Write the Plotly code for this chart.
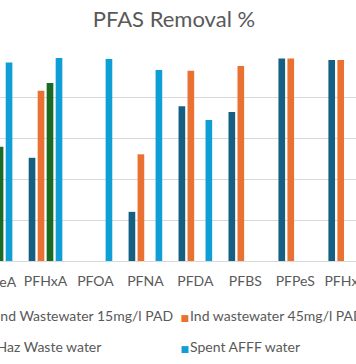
import plotly.graph_objects as go

categories = ["PFPeA", "PFHxA", "PFOA", "PFNA", "PFDA", "PFBS", "PFPeS", "PFHxS"]
ind_15 = [None, 50.6, None, 24.1, 75.9, 73.0, 99.3, 98.5]
ind_45 = [None, 83.4, None, 52.3, 93.2, 95.6, 99.3, 98.5]
haz = [56.0, 87.3, None, None, None, None, None, None]
afff = [97.3, 99.5, 99.0, 93.6, 69.1, None, None, None]

series_names = ["Ind Wastewater 15mg/l PAD", "Ind wastewater 45mg/l PAD",
                "Haz Waste water", "Spent AFFF water"]
series_values = [ind_15, ind_45, haz, afff]
series_colors = ["#156082", "#E97132", "#196B24", "#0F9ED5"]
legend_ids = ["legend5", "legend2", "legend3", "legend4"]

FONT = "Lato"
GRAY = "#595959"
W, H = 356, 364
top, bot = 56.7, 261.3
ph = bot - top
XR = [0.089, 7.216]

fig = go.Figure()
for name, vals, color in zip(series_names, series_values, series_colors):
    fig.add_trace(go.Bar(x=list(range(len(categories))), y=vals, name=name, showlegend=False,
                         marker=dict(color=color, line=dict(width=0))))

# legend entries: small coloured square drawn as text right before the label
for name, color, lg in zip(series_names, series_colors, legend_ids):
    label = (f"<span style='color:{color};font-family:DejaVu Sans;font-size:9px'>■</span>"
             f"<span style='font-size:4px'> </span>{name}")
    fig.add_trace(go.Scatter(x=[None], y=[None], mode="markers", name=label, legend=lg,
                             marker=dict(color="rgba(0,0,0,0)", size=1), hoverinfo="skip"))


def py(px):
    return (bot - px) / ph


leg_common = dict(orientation="h", yanchor="middle", xanchor="left", bgcolor="rgba(0,0,0,0)",
                  font=dict(family=FONT, size=14, color=GRAY), borderwidth=0)

# labels of categories whose centre lies outside the visible range
annotations = []
for i, c in enumerate(categories):
    if i < XR[0] or i > XR[1]:
        annotations.append(dict(text=c, xref="paper", yref="paper",
                                x=(i - XR[0]) / (XR[1] - XR[0]), y=py(281.5), xanchor="center",
                                yanchor="middle", showarrow=False,
                                font=dict(family=FONT, size=14, color=GRAY)))

fig.update_layout(
    width=W, height=H,
    margin=dict(l=0, r=0, t=top, b=H - bot, autoexpand=False),
    paper_bgcolor="white", plot_bgcolor="white",
    title=dict(text="PFAS Removal %", x=174 / W, xanchor="center", y=1 - 19 / H, yanchor="middle",
               font=dict(family=FONT, size=22, color=GRAY)),
    barmode="group", bargap=0.28, bargroupgap=0.26,
    xaxis=dict(tickmode="array", tickvals=list(range(len(categories))), ticktext=categories,
               range=XR, showgrid=False, zeroline=False, showline=True,
               linecolor="#d9d9d9", linewidth=1, ticks="", ticklabelstandoff=7,
               ticklabeloverflow="allow",
               tickfont=dict(family=FONT, size=14, color=GRAY)),
    yaxis=dict(range=[0, 100], dtick=20, showgrid=True, gridcolor="#d9d9d9", gridwidth=1,
               zeroline=False, showticklabels=False, showline=False),
    legend5=dict(x=-53 / W, y=py(316.7), **leg_common),
    legend2=dict(x=140.5 / W, y=py(316.7), **leg_common),
    legend3=dict(x=-53 / W, y=py(347.3), **leg_common),
    legend4=dict(x=140.5 / W, y=py(347.3), **leg_common),
    annotations=annotations,
)
fig.write_html("out.html", config={"displayModeBar": False},
               post_script="document.body.style.margin='0';")
